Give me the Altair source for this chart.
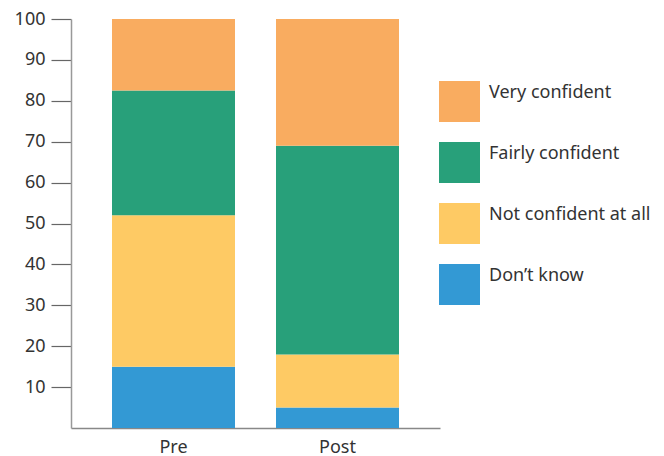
import altair as alt
import pandas as pd

groups = ["Pre", "Post"]
categories = ["Very confident", "Fairly confident", "Not confident at all", "Don\u2019t know"]
colors = ["#F9AC60", "#28A07A", "#FECA64", "#3399D4"]
# values per category, order: Don't know, Not confident, Fairly, Very
pre_values = [15, 37, 30.5, 17.5]
post_values = [5, 13, 51, 31]
stack_cats = ["Don\u2019t know", "Not confident at all", "Fairly confident", "Very confident"]

rows = []
for g, vals in zip(groups, [pre_values, post_values]):
    for i, (c, v) in enumerate(zip(stack_cats, vals)):
        rows.append({"group": g, "category": c, "value": v, "rank": i})
df = pd.DataFrame(rows)

FONT = "Noto Sans"

chart = alt.Chart(df).mark_bar().encode(
    x=alt.X("group:N", sort=groups, title=None,
            scale=alt.Scale(paddingInner=0.25, paddingOuter=0.25),
            axis=alt.Axis(labelAngle=0, ticks=False, labelFontSize=18, labelPadding=10,
                          labelColor="#333333", labelFont=FONT,
                          domainColor="#888888", domainWidth=1.5)),
    y=alt.Y("value:Q", stack="zero", title=None,
            scale=alt.Scale(domain=[0, 100], nice=False),
            axis=alt.Axis(values=[10, 20, 30, 40, 50, 60, 70, 80, 90, 100],
                          grid=False, tickSize=20, tickColor="#666666", tickWidth=1.2,
                          domainColor="#999999", domainWidth=1.5,
                          labelFontSize=18, labelColor="#333333", labelFont=FONT,
                          labelPadding=6)),
    color=alt.Color("category:N",
                    scale=alt.Scale(domain=categories, range=colors),
                    legend=alt.Legend(title=None, orient="none", legendX=368, legendY=62,
                                      symbolType="square", symbolSize=1681,
                                      symbolStrokeWidth=0, symbolOpacity=1,
                                      labelFontSize=18, labelFont=FONT, labelColor="#333333",
                                      labelBaseline="bottom", labelOffset=9,
                                      rowPadding=20, padding=0, labelLimit=300)),
    order=alt.Order("rank:Q", sort="ascending"),
).properties(
    width=369, height=409,
    autosize=alt.AutoSizeParams(type="none"),
    padding={"left": 71, "top": 19, "right": 224, "bottom": 28},
).configure_view(stroke=None)

chart.save("out.html", embed_options={"renderer": "svg", "actions": False})
